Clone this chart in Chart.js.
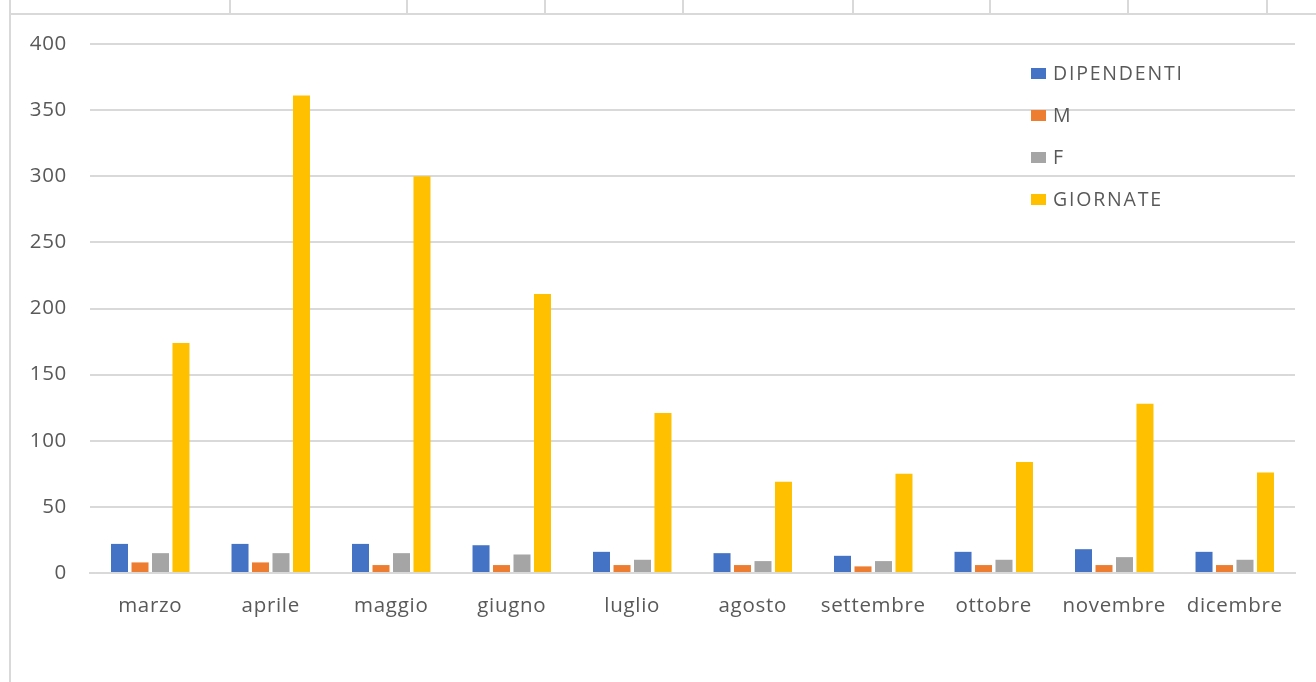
<!DOCTYPE html>
<html>
<head>
<meta charset="utf-8">
<script src="https://cdn.jsdelivr.net/npm/chart.js@4/dist/chart.umd.min.js"></script>
<style>
  html, body { margin: 0; padding: 0; background: #fff; }
  #wrap { position: relative; width: 1316px; height: 682px; overflow: hidden; }
  #c { position: absolute; left: 0; top: 0; }
  .hl { position: absolute; left: 10px; right: 0; top: 13px; height: 2px; background: #d9d9d9; }
  .vl { position: absolute; left: 9px; top: 0; bottom: 0; width: 2px; background: #d9d9d9; }
  .cell { position: absolute; top: 0; height: 14px; width: 2px; background: #d9d9d9; }
</style>
</head>
<body>
<div id="wrap">
  <div class="vl"></div>
  <div class="hl"></div>
  <div class="cell" style="left:229px"></div>
  <div class="cell" style="left:406px"></div>
  <div class="cell" style="left:544px"></div>
  <div class="cell" style="left:682px"></div>
  <div class="cell" style="left:852px"></div>
  <div class="cell" style="left:989px"></div>
  <div class="cell" style="left:1127px"></div>
  <div class="cell" style="left:1266px"></div>
  <canvas id="c" width="1316" height="682"></canvas>
</div>
<script>
const months = ["marzo","aprile","maggio","giugno","luglio","agosto","settembre","ottobre","novembre","dicembre"];
const dipendenti = [22, 22, 22, 21, 16, 15, 13, 16, 18, 16];
const maschi     = [8, 8, 6, 6, 6, 6, 5, 6, 6, 6];
const femmine    = [15, 15, 15, 14, 10, 9, 9, 10, 12, 10];
const giornate   = [174, 361, 300, 211, 121, 69, 75, 84, 128, 76];
const yTicks = [0, 50, 100, 150, 200, 250, 300, 350, 400];

const seriesNames = ["DIPENDENTI", "M", "F", "GIORNATE"];
const seriesColors = ["#4472c4", "#ed7d31", "#a5a5a5", "#ffc000"];
const seriesData = [dipendenti, maschi, femmine, giornate];

const FONT = "'Open Sans', 'Noto Sans', sans-serif";
const TEXT = "#595959";

const spacing = {
  id: 'spacing',
  beforeDraw(chart) { chart.ctx.letterSpacing = "0.7px"; }
};

const insideLegend = {
  id: 'insideLegend',
  afterDraw(chart) {
    const ctx = chart.ctx;
    ctx.save();
    ctx.letterSpacing = "1.8px";
    ctx.font = "19.5px " + FONT;
    ctx.textBaseline = "middle";
    ctx.textAlign = "left";
    chart.data.datasets.forEach((ds, i) => {
      const y = 74 + 42 * i;
      ctx.fillStyle = ds.backgroundColor;
      ctx.fillRect(1031, y - 6, 15, 11);
      ctx.fillStyle = TEXT;
      ctx.fillText(ds.label, 1053, y);
    });
    ctx.restore();
  }
};

new Chart(document.getElementById('c'), {
  type: 'bar',
  data: {
    labels: months,
    datasets: seriesNames.map((n, i) => ({
      label: n,
      data: seriesData[i],
      backgroundColor: seriesColors[i],
      borderWidth: 0,
      categoryPercentage: 0.68,
      barPercentage: 0.83
    }))
  },
  options: {
    responsive: false,
    animation: false,
    layout: { padding: { top: 44, right: 21, left: 0, bottom: 0 } },
    plugins: { legend: { display: false }, tooltip: { enabled: false } },
    scales: {
      x: {
        grid: { display: false, drawTicks: false },
        border: { display: true, color: "#d9d9d9", width: 2 },
        ticks: { color: TEXT, font: { family: FONT, size: 20.5 }, padding: 21, maxRotation: 0 },
        afterFit(s) { s.height = 109; }
      },
      y: {
        min: 0, max: 400,
        afterBuildTicks(s) { s.ticks = yTicks.map(v => ({ value: v })); },
        grid: { color: "#d9d9d9", lineWidth: 2, drawTicks: false },
        border: { display: false },
        ticks: { color: TEXT, font: { family: FONT, size: 20.5 }, padding: 23 },
        afterFit(s) { s.width = 90; }
      }
    }
  },
  plugins: [spacing, insideLegend]
});
</script>
</body>
</html>
